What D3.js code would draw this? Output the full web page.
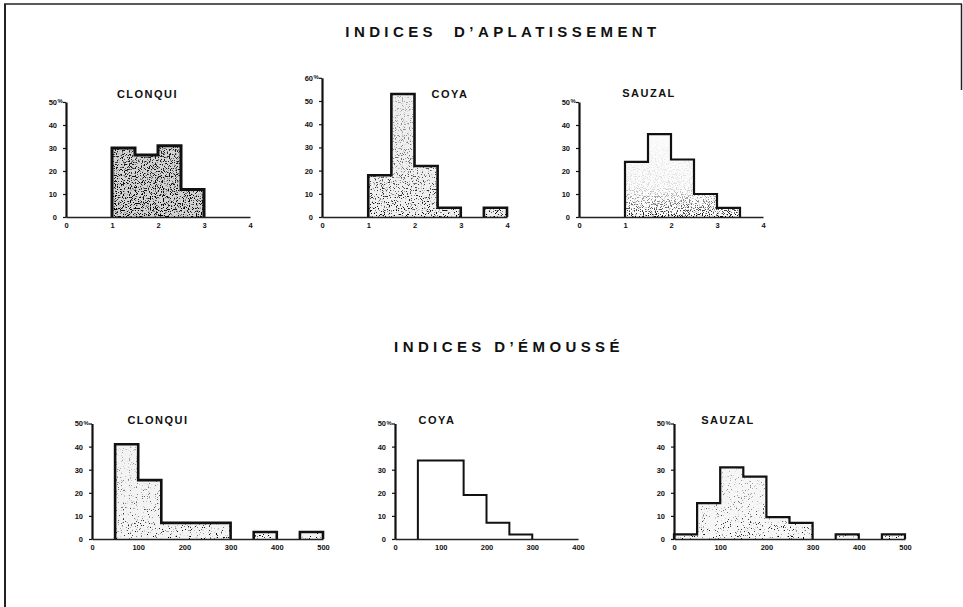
<!DOCTYPE html>
<html>
<head>
<meta charset="utf-8">
<script src="https://cdn.jsdelivr.net/npm/d3@7"></script>
<style>
  body { margin: 0; background: #fff; }
  svg { display: block; font-family: "Liberation Sans", Arial, Helvetica, sans-serif; }
  .tick text { font-size: 7.5px; font-weight: bold; fill: #111; }
  .title { font-size: 15px; font-weight: bold; letter-spacing: 4.4px; fill: #111; }
  .ptitle { font-size: 11px; font-weight: bold; letter-spacing: 1.5px; fill: #111; }
</style>
</head>
<body>
<svg width="963" height="607"></svg>
<script>
// values (percent per class)
const aplatStarts = [1, 1.5, 2, 2.5, 3, 3.5];          // class width 0.5
const aplatXTicks = [0, 1, 2, 3, 4];
const clonquiAplat = [30, 27, 31, 12, 0, 0];
const coyaAplat = [18, 53, 22, 4, 0, 4];
const sauzalAplat = [24, 36, 25, 10, 4, 0];

const emousseStarts = [0, 50, 100, 150, 200, 250, 300, 350, 400, 450]; // class width 50
const emousseXTicks500 = [0, 100, 200, 300, 400, 500];
const emousseXTicks400 = [0, 100, 200, 300, 400];
const clonquiEmousse = [0, 41, 25.5, 7, 7, 7, 0, 3, 0, 3];
const coyaEmousse = [0, 34, 34, 19, 7, 2, 0, 0];
const sauzalEmousse = [2, 15.5, 31, 27, 9.5, 7, 0, 2, 0, 2];

const yTicks50 = [0, 10, 20, 30, 40, 50];
const yTicks60 = [0, 10, 20, 30, 40, 50, 60];

const mainTitles = ["INDICES\u00a0\u00a0D\u2019APLATISSEMENT", "INDICES D\u2019\u00c9MOUSS\u00c9"];

var svg = d3.select("svg");
var defs = svg.append("defs");

// stipple texture made with a noise filter
function stippleFilter(id, cut, seed) {
    var f = defs.append("filter").attr("id", id)
        .attr("x", 0).attr("y", 0).attr("width", 1).attr("height", 1);
    f.append("feTurbulence").attr("type", "fractalNoise")
        .attr("baseFrequency", 0.85).attr("numOctaves", 2).attr("seed", seed).attr("result", "n");
    f.append("feColorMatrix").attr("in", "n").attr("type", "matrix")
        .attr("values", "0 0 0 0 0  0 0 0 0 0  0 0 0 0 0  10 0 0 0 " + (-cut)).attr("result", "dots");
    f.append("feComposite").attr("in", "dots").attr("in2", "SourceGraphic").attr("operator", "in");
}
stippleFilter("stipDense", 5.4, 2);
stippleFilter("stipMid", 5.9, 5);
stippleFilter("stipLight", 6.4, 9);

// vertical fades used as masks (bottom = visible)
function fadeMask(id, stops) {
    var g = defs.append("linearGradient").attr("id", id + "G")
        .attr("x1", 0).attr("y1", 1).attr("x2", 0).attr("y2", 0);
    stops.forEach(function(s) { g.append("stop").attr("offset", s[0]).attr("stop-color", s[1]); });
    defs.append("mask").attr("id", id).attr("maskContentUnits", "objectBoundingBox")
        .append("rect").attr("width", 1).attr("height", 1).attr("fill", "url(#" + id + "G)");
}
fadeMask("fadeFull", [[0, "#fff"], [1, "#ddd"]]);
fadeMask("fadeSoft", [[0, "#fff"], [0.5, "#888"], [1, "#444"]]);
fadeMask("fadeBand", [[0, "#fff"], [0.1, "#aaa"], [0.35, "#222"], [1, "#000"]]);

// frame of the plate
svg.append("line").attr("x1", 4).attr("x2", 962).attr("y1", 4).attr("y2", 4)
    .attr("stroke", "#222").attr("stroke-width", 1.5);
svg.append("line").attr("x1", 5).attr("x2", 5).attr("y1", 4).attr("y2", 607)
    .attr("stroke", "#222").attr("stroke-width", 2);
svg.append("line").attr("x1", 961.5).attr("x2", 961.5).attr("y1", 4).attr("y2", 90)
    .attr("stroke", "#222").attr("stroke-width", 1.5);

// main titles
svg.append("text").attr("class", "title").attr("x", 503).attr("y", 37)
    .attr("text-anchor", "middle").text(mainTitles[0]);
svg.append("text").attr("class", "title").attr("x", 509).attr("y", 352)
    .attr("text-anchor", "middle").text(mainTitles[1]);

var panels = [
    {name: "CLONQUI", starts: aplatStarts, w: 0.5, values: clonquiAplat, xTicks: aplatXTicks, yTicks: yTicks50,
     x0: 66, x1: 250, base: 217, unit: 2.3, tx: 147.5, ty: 98,
     base_fill: "#d4d4d4", stip: "stipDense", mask: "fadeFull", stroke: 3},
    {name: "COYA", starts: aplatStarts, w: 0.5, values: coyaAplat, xTicks: aplatXTicks, yTicks: yTicks60,
     x0: 322, x1: 507, base: 217, unit: 2.32, tx: 450, ty: 98,
     base_fill: "#efefef", stip: "stipMid", mask: "fadeSoft", stroke: 2.6},
    {name: "SAUZAL", starts: aplatStarts, w: 0.5, values: sauzalAplat, xTicks: aplatXTicks, yTicks: yTicks50,
     x0: 579, x1: 763, base: 217, unit: 2.3, tx: 649, ty: 97,
     base_fill: "#fbfbfb", stip: "stipDense", mask: "fadeBand", stroke: 2.2},
    {name: "CLONQUI", starts: emousseStarts, w: 50, values: clonquiEmousse, xTicks: emousseXTicks500, yTicks: yTicks50,
     x0: 92, x1: 323, base: 539, unit: 2.31, tx: 158, ty: 423.5,
     base_fill: "#f3f3f3", stip: "stipLight", mask: "fadeSoft", stroke: 2.6},
    {name: "COYA", starts: emousseStarts.slice(0, 8), w: 50, values: coyaEmousse, xTicks: emousseXTicks400, yTicks: yTicks50,
     x0: 395, x1: 578, base: 539, unit: 2.31, tx: 437, ty: 424,
     base_fill: "#ffffff", stip: null, mask: null, stroke: 2},
    {name: "SAUZAL", starts: emousseStarts, w: 50, values: sauzalEmousse, xTicks: emousseXTicks500, yTicks: yTicks50,
     x0: 674, x1: 905, base: 539, unit: 2.31, tx: 728, ty: 424,
     base_fill: "#f6f6f6", stip: "stipLight", mask: "fadeSoft", stroke: 2.2}
];

panels.forEach(function(p) {
    var xMax = p.xTicks[p.xTicks.length - 1];
    var yMax = p.yTicks[p.yTicks.length - 1];
    var x = d3.scaleLinear().domain([0, xMax]).range([p.x0, p.x1]);
    var y = d3.scaleLinear().domain([0, yMax]).range([p.base, p.base - yMax * p.unit]);
    var bins = p.values.map(function(v, i) { return {start: p.starts[i], v: v}; })
        .filter(function(d) { return d.v > 0; });

    var g = svg.append("g");

    // base tone of the bars
    g.selectAll(".bar").data(bins).enter().append("rect")
        .attr("class", "bar")
        .attr("x", function(d) { return x(d.start); })
        .attr("y", function(d) { return y(d.v); })
        .attr("width", function(d) { return x(d.start + p.w) - x(d.start); })
        .attr("height", function(d) { return y(0) - y(d.v); })
        .attr("fill", p.base_fill);

    // stippled layer
    if (p.stip) {
        var s = g.append("g").attr("mask", "url(#" + p.mask + ")")
            .append("g").attr("filter", "url(#" + p.stip + ")");
        s.selectAll("rect").data(bins).enter().append("rect")
            .attr("x", function(d) { return x(d.start); })
            .attr("y", function(d) { return y(d.v); })
            .attr("width", function(d) { return x(d.start + p.w) - x(d.start); })
            .attr("height", function(d) { return y(0) - y(d.v); })
            .attr("fill", "#000");
    }

    // outline of the histogram (outer steps only)
    var path = d3.path(), open = false;
    p.values.forEach(function(v, i) {
        var xs = x(p.starts[i]), xe = x(p.starts[i] + p.w);
        if (v > 0) {
            if (!open) { path.moveTo(xs, y(0)); open = true; }
            path.lineTo(xs, y(v));
            path.lineTo(xe, y(v));
        } else if (open) {
            path.lineTo(xs, y(0));
            open = false;
        }
    });
    if (open) path.lineTo(x(p.starts[p.values.length - 1] + p.w), y(0));
    g.append("path").attr("d", path.toString())
        .attr("fill", "none").attr("stroke", "#111")
        .attr("stroke-width", p.stroke).attr("stroke-linejoin", "miter");

    // axes
    var xa = g.append("g").attr("transform", "translate(0," + p.base + ")")
        .call(d3.axisBottom(x).tickValues(p.xTicks).tickFormat(d3.format("d"))
            .tickSize(0).tickPadding(6));
    xa.select(".domain").attr("stroke", "#222").attr("stroke-width", 1.6);

    var ya = g.append("g").attr("transform", "translate(" + p.x0 + ",0)")
        .call(d3.axisLeft(y).tickValues(p.yTicks).tickFormat(d3.format("d"))
            .tickSize(3).tickSizeOuter(0).tickPadding(6));
    ya.select(".domain").attr("stroke", "#111").attr("stroke-width", 2.2);
    ya.selectAll(".tick line").attr("stroke", "#111").attr("stroke-width", 1.2);
    // "%" after the top value
    ya.selectAll(".tick").filter(function(d) { return d === yMax; })
        .append("text").attr("x", -8.5).attr("dy", "0.1em").attr("fill", "#111")
        .style("font-size", "6px").attr("text-anchor", "start").text("%");

    g.selectAll(".tick text").attr("font-family", null).attr("font-size", null);

    // panel title
    g.append("text").attr("class", "ptitle").attr("x", p.tx).attr("y", p.ty)
        .attr("text-anchor", "middle").text(p.name);
});
</script>
</body>
</html>
